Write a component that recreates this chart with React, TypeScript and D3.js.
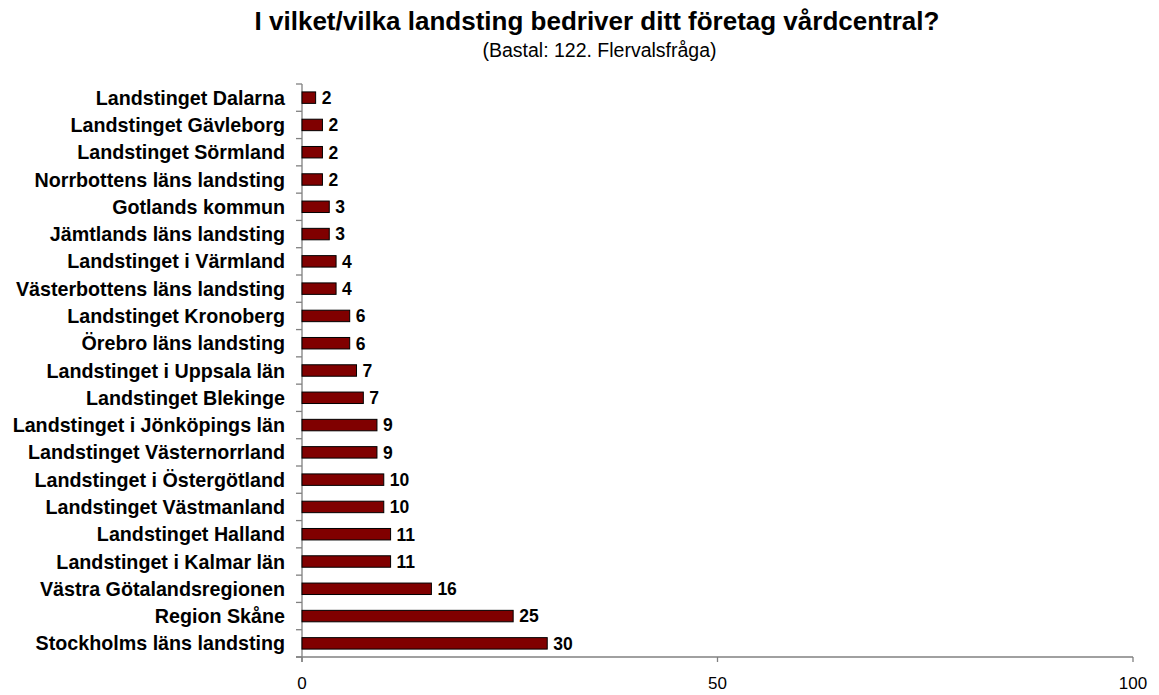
import React from "react";
import * as d3 from "d3";

const categories = [
  "Landstinget Dalarna",
  "Landstinget Gävleborg",
  "Landstinget Sörmland",
  "Norrbottens läns landsting",
  "Gotlands kommun",
  "Jämtlands läns landsting",
  "Landstinget i Värmland",
  "Västerbottens läns landsting",
  "Landstinget Kronoberg",
  "Örebro läns landsting",
  "Landstinget i Uppsala län",
  "Landstinget Blekinge",
  "Landstinget i Jönköpings län",
  "Landstinget Västernorrland",
  "Landstinget i Östergötland",
  "Landstinget Västmanland",
  "Landstinget Halland",
  "Landstinget i Kalmar län",
  "Västra Götalandsregionen",
  "Region Skåne",
  "Stockholms läns landsting",
];
// percentages (bar lengths); labels show them rounded
const values = [1.64, 2.46, 2.46, 2.46, 3.28, 3.28, 4.1, 4.1, 5.74, 5.74, 6.56, 7.38, 9.02, 9.02, 9.84, 9.84, 10.66, 10.66, 15.57, 25.41, 29.51];
const xTicks = [0, 50, 100];

const title = "I vilket/vilka landsting bedriver ditt företag vårdcentral?";
const subtitle = "(Bastal: 122. Flervalsfråga)";

export default function App() {
  const W = 1159, H = 695;
  const left = 302, right = 1133, top = 84, bottom = 657;
  const x = d3.scaleLinear().domain([0, 100]).range([left, right]);
  const y = d3.scaleBand().domain(categories).range([top, bottom]).paddingInner(0.58).paddingOuter(0.29);
  const band = (bottom - top) / categories.length;
  const font = "Liberation Sans, Arial, sans-serif";
  const axisColor = "#808080";
  return (
    <svg width={W} height={H} style={{ position: "absolute", left: 0, top: 0 }} fontFamily={font}>
      <rect width={W} height={H} fill="#fff" />
      <text x={597} y={30} textAnchor="middle" fontSize={26} fontWeight="bold">{title}</text>
      <text x={599.5} y={57} textAnchor="middle" fontSize={19.5}>{subtitle}</text>
      {/* y axis */}
      <line x1={left} x2={left} y1={top} y2={bottom + 5} stroke={axisColor} strokeWidth={1.3} />
      {d3.range(categories.length + 1).map((i) => (
        <line key={"yt" + i} x1={left - 6} x2={left} y1={top + i * band} y2={top + i * band} stroke={axisColor} strokeWidth={1.3} />
      ))}
      {/* x axis */}
      <line x1={left - 6} x2={right} y1={bottom} y2={bottom} stroke={axisColor} strokeWidth={1.3} />
      {xTicks.map((t) => (
        <g key={"xt" + t}>
          <line x1={x(t)} x2={x(t)} y1={bottom} y2={bottom + 5} stroke={axisColor} strokeWidth={1.3} />
          <text x={x(t)} y={689} textAnchor="middle" fontSize={17}>{t}</text>
        </g>
      ))}
      {categories.map((c, i) => {
        const yy = y(c)!;
        const bh = y.bandwidth();
        return (
          <g key={c}>
            <text x={285} y={yy + bh / 2} dy="0.36em" textAnchor="end" fontSize={19.7} fontWeight="bold">{c}</text>
            <rect x={x(0)} y={yy} width={x(values[i]) - x(0)} height={bh} fill="#800000" stroke="#000" strokeWidth={1} />
            <text x={x(values[i]) + 6} y={yy + bh / 2} dy="0.36em" fontSize={17.5} fontWeight="bold">{Math.round(values[i])}</text>
          </g>
        );
      })}
    </svg>
  );
}
